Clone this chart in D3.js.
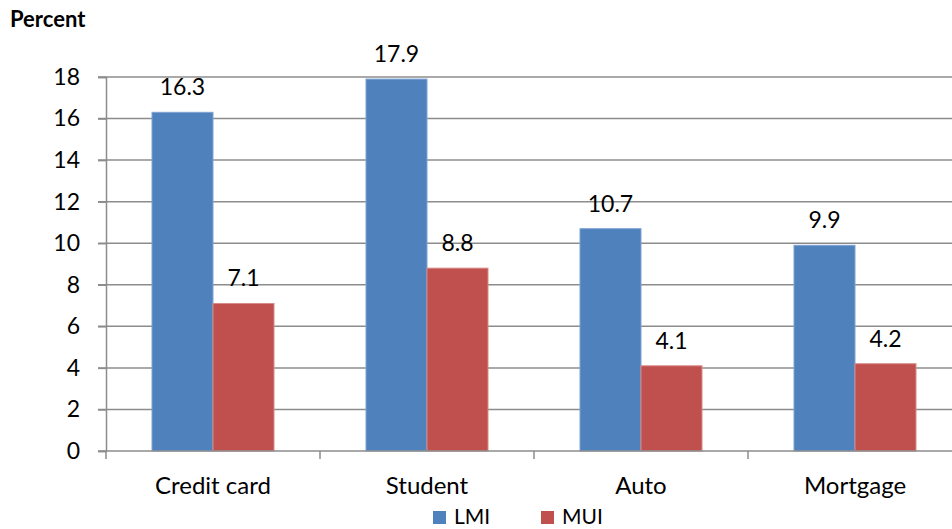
<!DOCTYPE html>
<html>
<head>
<meta charset="utf-8">
<script src="https://cdn.jsdelivr.net/npm/d3@7"></script>
<style>
  body { margin: 0; background: #fff; }
  svg text { font-family: Lato, "Open Sans", sans-serif; fill: #000; }
</style>
</head>
<body>
<div id="chart"></div>
<script>
const categories = ["Credit card", "Student", "Auto", "Mortgage"];
const seriesNames = ["LMI", "MUI"];
const lmiValues = [16.3, 17.9, 10.7, 9.9];
const muiValues = [7.1, 8.8, 4.1, 4.2];
const yTicks = [0, 2, 4, 6, 8, 10, 12, 14, 16, 18];

const width = 952, height = 529;
const colors = ["#4F81BD", "#C0504D"];
const edges = ["#7FA3D4", "#D88A88"];

const rows = categories.map((c, i) => ({ cat: c, vals: [lmiValues[i], muiValues[i]] }));

const svg = d3.select("#chart").append("svg")
  .attr("width", width)
  .attr("height", height);

const x = d3.scaleBand().domain(categories).range([106, 962]).paddingInner(0).paddingOuter(0);
const y = d3.scaleLinear().domain([0, 18]).range([451, 77]);
// bars take 122 of the 214 px each category gets
const barW = 61;

// gridlines
svg.append("g")
  .selectAll("line")
  .data(yTicks.slice(1))
  .enter()
  .append("line")
  .attr("x1", 98).attr("x2", width)
  .attr("y1", d => y(d)).attr("y2", d => y(d))
  .attr("stroke", "#8c8c8c")
  .attr("stroke-width", 1.5);

// y axis
const yAxis = svg.append("g")
  .attr("transform", "translate(106,0)")
  .call(d3.axisLeft(y).tickValues(yTicks).tickSize(8).tickPadding(18));
yAxis.select(".domain").attr("stroke", "#8c8c8c").attr("stroke-width", 1.5);
yAxis.selectAll(".tick line").attr("stroke", "#8c8c8c").attr("stroke-width", 1.5);
yAxis.selectAll(".tick text")
  .style("font-size", "23px")
  .style("font-family", "Lato, 'Open Sans', sans-serif");

// bars
const groups = svg.append("g")
  .selectAll("g")
  .data(rows)
  .enter()
  .append("g")
  .attr("transform", d => "translate(" + (x(d.cat) + x.bandwidth() / 2 - barW) + ",0)");

groups.selectAll("rect")
  .data(d => d.vals)
  .enter()
  .append("rect")
  .attr("x", (d, i) => i * barW)
  .attr("y", d => y(d))
  .attr("width", barW)
  .attr("height", d => y(0) - y(d))
  .attr("fill", (d, i) => colors[i])
  .attr("stroke", (d, i) => edges[i])
  .attr("stroke-width", 1);

groups.selectAll("text")
  .data(d => d.vals)
  .enter()
  .append("text")
  .attr("x", (d, i) => i * barW + barW / 2)
  .attr("y", d => y(d) - 17)
  .attr("text-anchor", "middle")
  .style("font-size", "23px")
  .text(d => d.toFixed(1));

// x axis
const xAxis = svg.append("g")
  .attr("transform", "translate(0,451)");
xAxis.append("line")
  .attr("x1", 98).attr("x2", width)
  .attr("y1", 0).attr("y2", 0)
  .attr("stroke", "#8c8c8c")
  .attr("stroke-width", 1.5);
xAxis.selectAll("line.tk")
  .data(categories)
  .enter()
  .append("line")
  .attr("class", "tk")
  .attr("x1", d => x(d)).attr("x2", d => x(d))
  .attr("y1", 0).attr("y2", 8)
  .attr("stroke", "#8c8c8c")
  .attr("stroke-width", 1.5);
xAxis.selectAll("text")
  .data(categories)
  .enter()
  .append("text")
  .attr("x", d => x(d) + x.bandwidth() / 2)
  .attr("y", 43)
  .attr("text-anchor", "middle")
  .style("font-size", "24px")
  .text(d => d);

// y title
svg.append("text")
  .attr("x", 10).attr("y", 27)
  .style("font-size", "22px")
  .style("font-weight", "bold")
  .text("Percent");

// legend
const legendX = [433, 541];
const legend = svg.append("g")
  .selectAll("g")
  .data(seriesNames)
  .enter()
  .append("g")
  .attr("transform", (d, i) => "translate(" + legendX[i] + ",511)");
legend.append("rect")
  .attr("width", 13).attr("height", 13)
  .attr("fill", (d, i) => colors[i]);
legend.append("text")
  .attr("x", 21).attr("y", 13)
  .style("font-size", "21px")
  .text(d => d);
</script>
</body>
</html>
